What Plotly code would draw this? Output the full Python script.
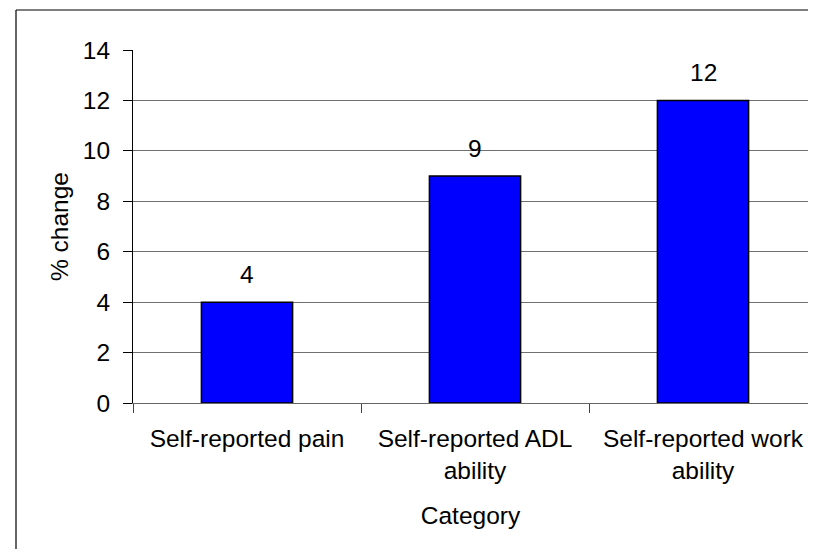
import plotly.graph_objects as go

categories = ["Self-reported pain", "Self-reported ADL<br>ability", "Self-reported work<br>ability"]
values = [4, 9, 12]
y_ticks = [0, 2, 4, 6, 8, 10, 12, 14]

FONT = "Liberation Sans, Arial, sans-serif"
FS = 24.5

fig = go.Figure()
fig.add_trace(go.Bar(
    x=categories, y=values,
    marker=dict(color="#0000FF", line=dict(color="black", width=1.5)),
    width=0.4,
    hoverinfo="skip",
))

for c, v in zip(categories, values):
    fig.add_annotation(x=c, y=v, text=str(v), showarrow=False, yshift=28,
                       font=dict(family=FONT, size=FS, color="black"))

# page has an 8px body margin; keep the figure inside the window
FW, FH = 800, 541
L, T, W, H = 125, 42, 675, 353
CAT_W = 228  # px per category in the reference; the plot is cut at the page edge

def px(x):
    return (x - L) / W

def py(y):
    return (T + H - y) / H

# outer chart border: only its left and top edges fall inside the page
border = dict(color="black", width=1.2)
fig.add_shape(type="line", xref="paper", yref="paper",
              x0=px(8), x1=px(8), y0=py(FH), y1=py(2), line=border, layer="below")
fig.add_shape(type="line", xref="paper", yref="paper",
              x0=px(8), x1=px(FW), y0=py(2), y1=py(2), line=border, layer="below")

fig.update_layout(
    width=FW, height=FH,
    margin=dict(l=L, r=FW - L - W, t=T, b=FH - T - H),
    paper_bgcolor="white", plot_bgcolor="white",
    showlegend=False,
    font=dict(family=FONT, size=FS, color="black"),
    xaxis=dict(
        type="category", range=[-0.5, -0.5 + W / CAT_W],
        tickson="boundaries", ticks="outside", ticklen=9, tickcolor="#444",
        showline=True, linecolor="#666", linewidth=1,
        showgrid=False, zeroline=False, ticklabelstandoff=14,
        tickfont=dict(family=FONT, size=FS, color="black"),
        title=dict(text="Category", standoff=23, font=dict(family=FONT, size=FS, color="black")),
    ),
    yaxis=dict(
        range=[0, 14], tickvals=y_ticks, ticktext=[str(t) for t in y_ticks],
        ticks="outside", ticklen=9, tickcolor="black",
        showline=True, linecolor="black", linewidth=1,
        showgrid=True, gridcolor="#707070", gridwidth=1,
        zeroline=False, ticklabelstandoff=8,
        tickfont=dict(family=FONT, size=FS, color="black"),
        title=dict(text="% change", standoff=7, font=dict(family=FONT, size=FS, color="black")),
    ),
)

fig.write_html("out.html")
